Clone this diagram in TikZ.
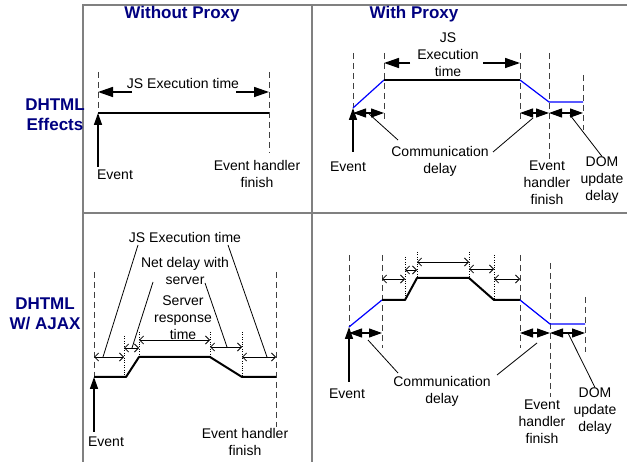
\documentclass[tikz,border=0pt]{standalone}
\usepackage{fontspec}
\setmainfont{Liberation Sans}
\usetikzlibrary{arrows.meta}
\definecolor{grid}{HTML}{808080}
\definecolor{head}{HTML}{000080}
\definecolor{tick}{HTML}{404040}
\definecolor{comm}{HTML}{0000FF}
\tikzset{
  tabline/.style={draw=grid, line width=2pt},
  vline/.style={draw=tick, line width=1pt, dash pattern=on 6pt off 4pt},
  dotline/.style={draw=black, line width=0.8pt, dash pattern=on 0.8pt off 1.6pt},
  proc/.style={draw=black, line width=2pt, line join=round},
  net/.style={draw=comm, line width=1.2pt, line join=round},
  dur/.style={draw=black, line width=1.5pt, -{Triangle[length=15pt,width=10pt]}},
  gap/.style={draw=black, line width=1.2pt, {Triangle[length=13pt,width=9pt]}-{Triangle[length=13pt,width=9pt]}},
  small/.style={draw=black, line width=0.8pt, {Straight Barb[length=4pt,width=8pt]}-{Straight Barb[length=4pt,width=8pt]}},
  evt/.style={draw=black, line width=1.5pt, -{Triangle[length=12pt,width=8pt]}},
  lead/.style={draw=black, line width=0.8pt},
  lab/.style={font=\fontsize{14}{17}\selectfont, align=center, inner sep=0pt},
  hd/.style={font=\fontsize{17}{20}\selectfont\bfseries, text=head, align=center, inner sep=0pt},
}
\begin{document}
\begin{tikzpicture}[x=1pt,y=-1pt]
  \useasboundingbox (0,0) rectangle (627,462);
  % table
  \draw[tabline] (83,462) -- (83,5) -- (627,5);
  \draw[tabline] (312,5) -- (312,462);
  \draw[tabline] (83,213) -- (627,213);
  \node[hd] (hwo) at (182,14) {Without Proxy};
  \node[hd] (hw) at (414,14) {With Proxy};
  \node[hd] (rfx) at (55,115) {DHTML\\Effects};
  \node[hd] (rajax) at (45,314) {DHTML\\W/ AJAX};

  % without proxy, effects
  \coordinate (a0) at (98,113);
  \coordinate (a1) at (269,113);
  \draw[vline] (98,72) -- (a0);
  \draw[vline] (269,72) -- (269,153);
  \draw[proc] (a0) -- (a1);
  \node[lab] (js1) at (183,83) {JS Execution time};
  \draw[dur] (132,92) -- (98,92);
  \draw[dur] (236,92) -- (269,92);
  \node[lab] (ev1) at (115,175) {Event};
  \draw[evt] (ev1.north -| a0) ++(0,-3) -- (a0);
  \node[lab] (ehf1) at (257,173.5) {Event handler\\finish};

  % with proxy, effects
  \coordinate (b0) at (353,108);
  \coordinate (b1) at (384,80);
  \coordinate (b2) at (520,80);
  \coordinate (b3) at (549,102);
  \coordinate (b4) at (583,102);
  \draw[vline] (353,53) -- (b0);
  \draw[vline] (384,53) -- (384,122);
  \draw[vline] (520,53) -- (520,122);
  \draw[vline] (549,53) -- (549,163);
  \draw[vline] (583,75) -- (583,130);
  \draw[net] (b0) -- (b1);
  \draw[proc] (b1) -- (b2);
  \draw[net] (b2) -- (b3) -- (b4);
  \node[lab] (js2) at (448,55) {JS\\Execution\\time};
  \draw[dur] (410,63) -- (384,63);
  \draw[dur] (483,63) -- (520,63);
  \draw[gap] (353,113) -- (384,113);
  \draw[gap] (520,113) -- (549,113);
  \draw[gap] (549,113) -- (583,113);
  \node[lab] (cd2) at (440,161) {Communication\\delay};
  \draw[lead] (368,113) -- (398,140);
  \draw[lead] (533,118) -- (493,152);
  \node[lab] (ev2) at (348,167) {Event};
  \draw[evt] (353,152) -- (b0);
  \node[lab] (ehf2) at (547,183) {Event\\handler\\finish};
  \node[lab] (dom2) at (602,180) {DOM\\update\\delay};
  \draw[lead] (570,115) -- (dom2.north);

  % without proxy, ajax
  \coordinate (c0) at (94,377);
  \coordinate (c1) at (126,377);
  \coordinate (c2) at (139,357);
  \coordinate (c3) at (210,357);
  \coordinate (c4) at (242,377);
  \coordinate (c5) at (276,377);
  \draw[vline] (94,272) -- (c0);
  \draw[vline] (276,272) -- (276,427);
  \draw[dotline] (124,336) -- (124,377);
  \draw[dotline] (139,332) -- (c2);
  \draw[dotline] (210,332) -- (c3);
  \draw[dotline] (242,332) -- (c4);
  \draw[proc] (c0) -- (c1) -- (c2) -- (c3) -- (c4) -- (c5);
  \draw[small] (94,357) -- (124,357);
  \draw[small] (124,348) -- (139,348);
  \draw[small] (139,340) -- (210,340);
  \draw[small] (210,347) -- (242,347);
  \draw[small] (242,357) -- (276,357);
  \node[lab] (js3) at (185,237) {JS Execution time};
  \node[lab] (nd3) at (185,271) {Net delay with\\server};
  \node[lab] (sr3) at (183,318) {Server\\response\\time};
  \draw[lead] (138,245) -- (103,357);
  \draw[lead] (228,245) -- (267,357);
  \draw[lead] (153,282) -- (132,348);
  \draw[lead] (205,283) -- (227,347);
  \node[lab] (ev3) at (106,442) {Event};
  \draw[evt] (94,432) -- (c0);
  \node[lab] (ehf3) at (245,442) {Event handler\\finish};

  % with proxy, ajax
  \coordinate (d0) at (349,327);
  \coordinate (d1) at (382,300);
  \coordinate (d2) at (405,300);
  \coordinate (d3) at (417,278);
  \coordinate (d4) at (469,278);
  \coordinate (d5) at (494,300);
  \coordinate (d6) at (520,300);
  \coordinate (d7) at (550,324);
  \coordinate (d8) at (585,324);
  \draw[vline] (349,255) -- (d0);
  \draw[vline] (382,255) -- (382,348);
  \draw[vline] (520,255) -- (520,348);
  \draw[vline] (550,263) -- (550,397);
  \draw[vline] (585,297) -- (585,352);
  \draw[dotline] (405,257) -- (d2);
  \draw[dotline] (417,252) -- (d3);
  \draw[dotline] (469,252) -- (d4);
  \draw[dotline] (494,255) -- (d5);
  \draw[net] (d0) -- (d1);
  \draw[proc] (d1) -- (d2) -- (d3) -- (d4) -- (d5) -- (d6);
  \draw[net] (d6) -- (d7) -- (d8);
  \draw[small] (382,279) -- (405,279);
  \draw[small] (405,270) -- (417,270);
  \draw[small] (417,262) -- (469,262);
  \draw[small] (469,269) -- (494,269);
  \draw[small] (494,279) -- (520,279);
  \draw[gap] (349,333) -- (382,333);
  \draw[gap] (520,333) -- (550,333);
  \draw[gap] (550,333) -- (585,333);
  \node[lab] (cd4) at (442,391) {Communication\\delay};
  \draw[lead] (368,340) -- (398,373);
  \draw[lead] (537,343) -- (497,375);
  \node[lab] (ev4) at (347,394) {Event};
  \draw[evt] (349,382) -- (d0);
  \node[lab] (ehf4) at (542,422) {Event\\handler\\finish};
  \node[lab] (dom4) at (595,411) {DOM\\update\\delay};
  \draw[lead] (568,333) -- (dom4.north);
\end{tikzpicture}
\end{document}
